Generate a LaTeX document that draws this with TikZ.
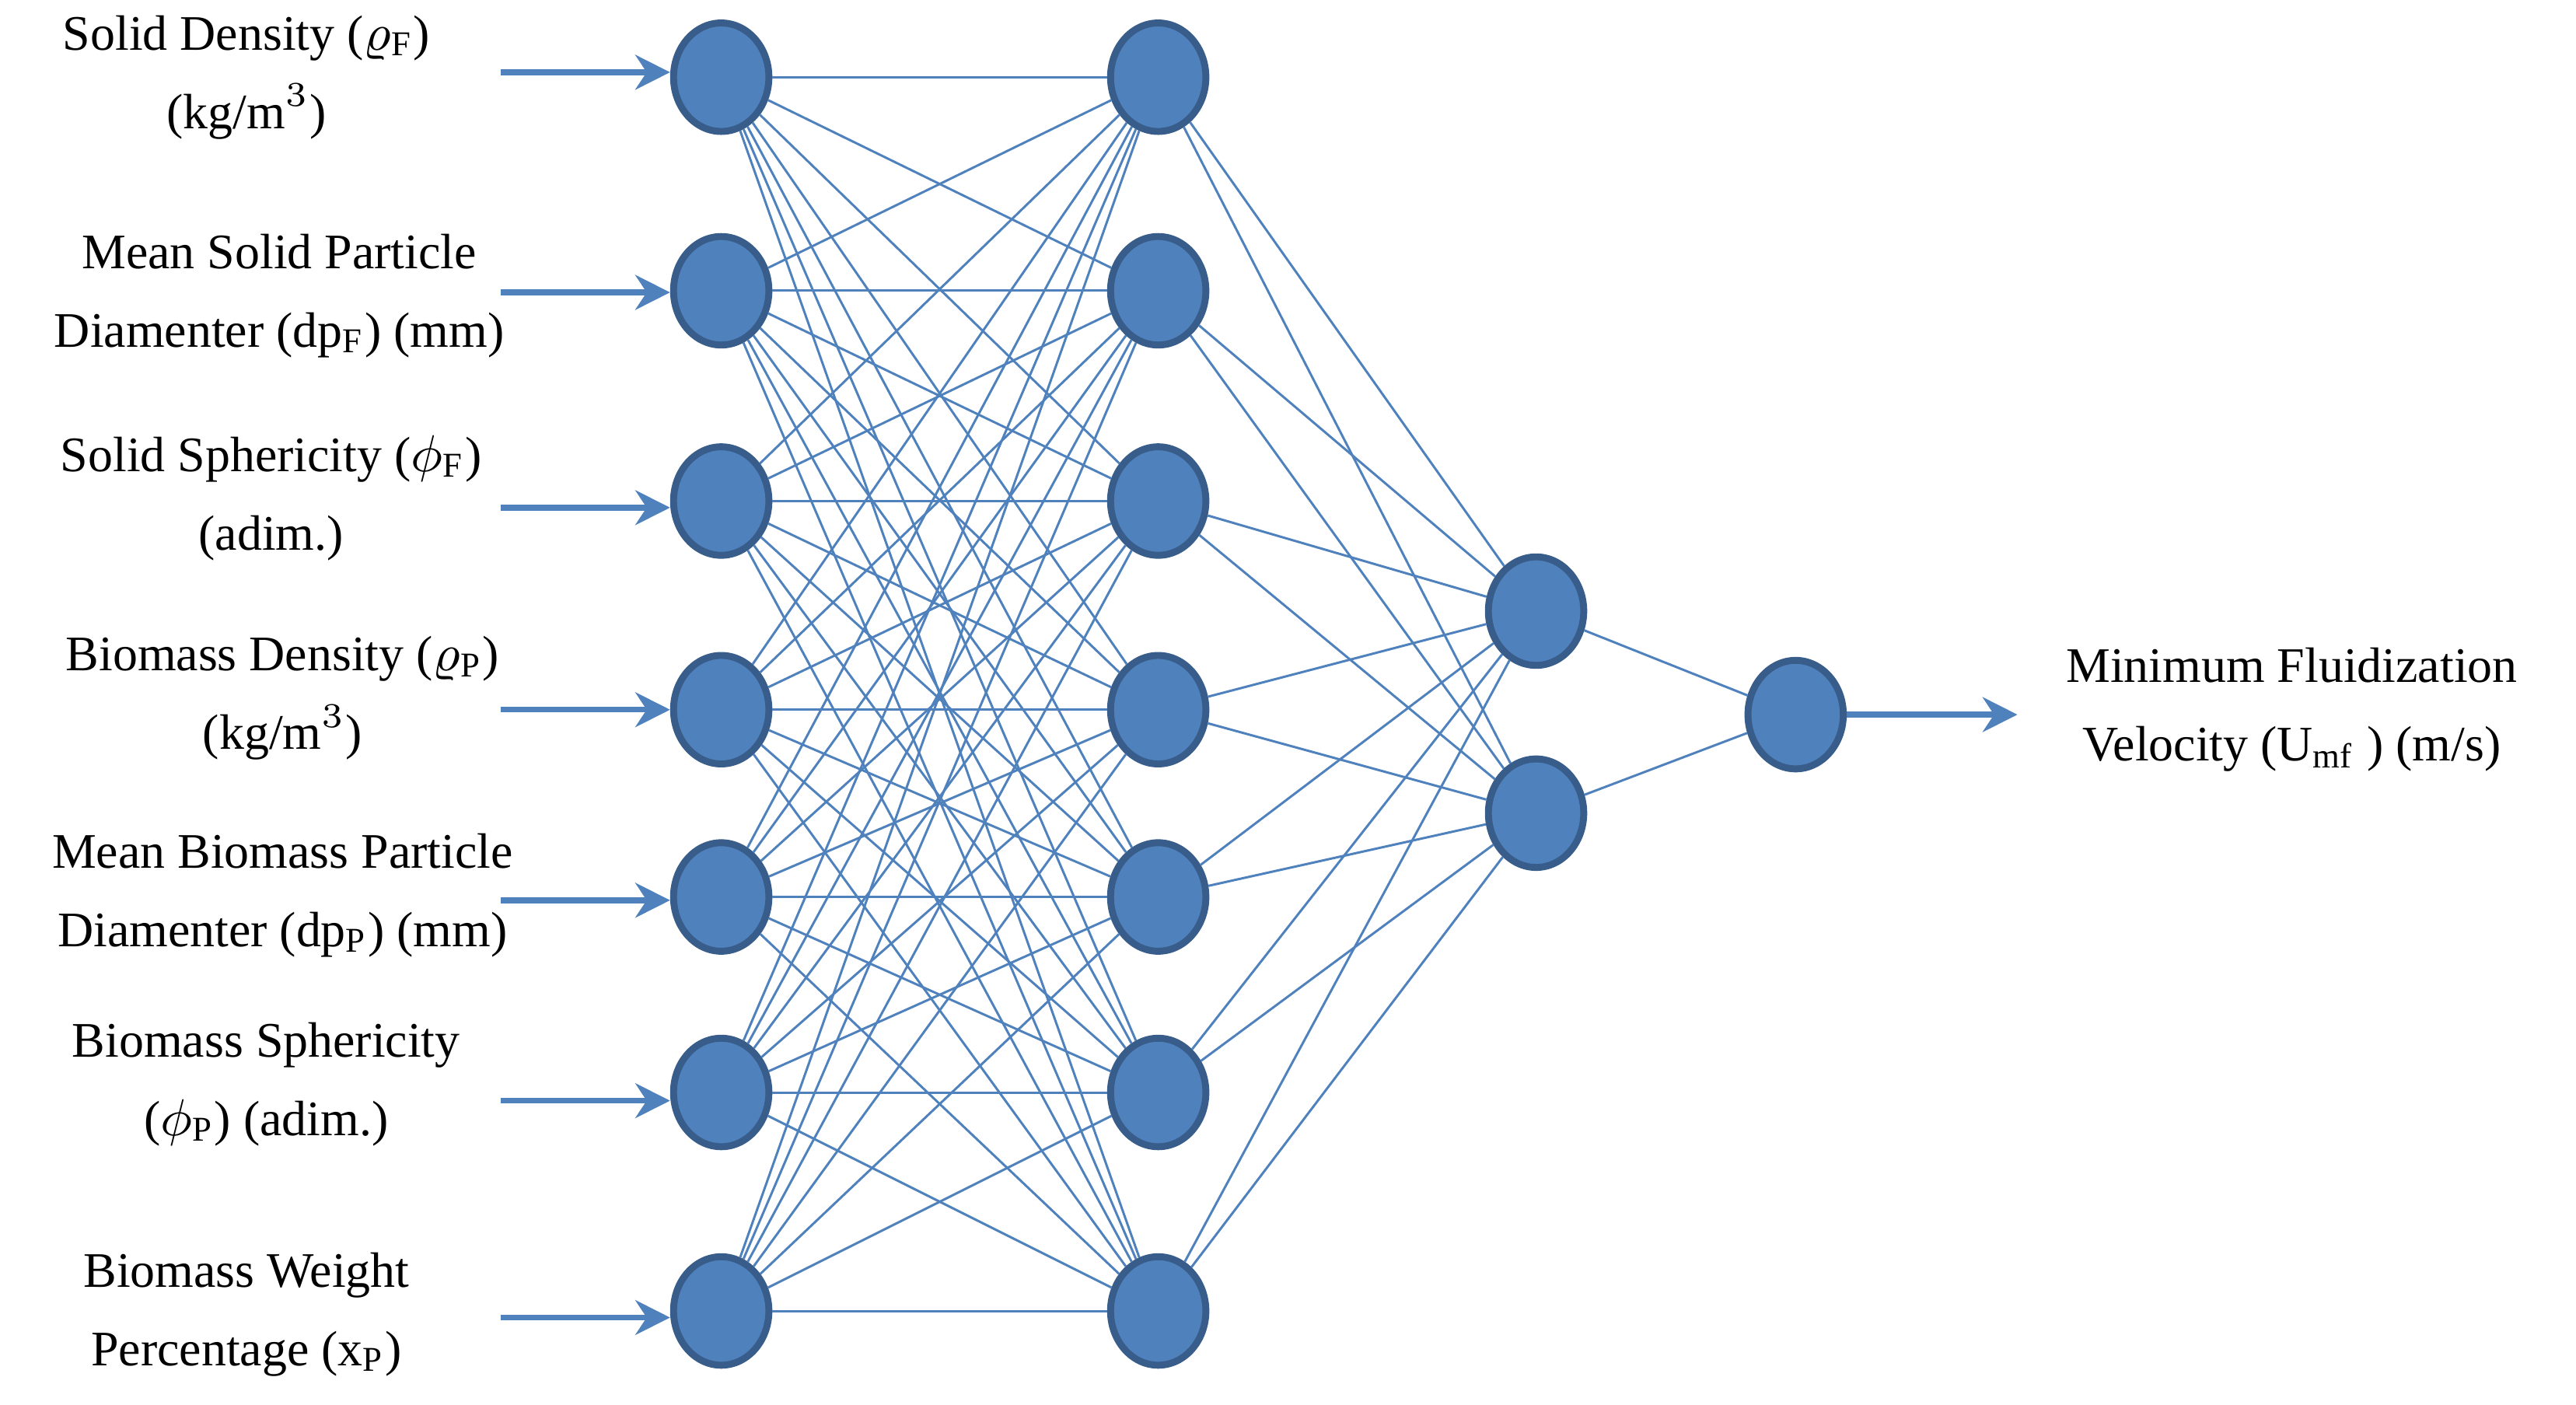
\documentclass[tikz,border=0pt]{standalone}
\usepackage{fontspec}
\setmainfont{Liberation Serif}
\usetikzlibrary{shapes.geometric,arrows.meta}
\begin{document}
\begin{tikzpicture}[x=0.01cm,y=-0.01cm,
  neuron/.style={ellipse,draw={rgb,255:red,56;green,93;blue,138},fill=nfill,line width=1.2pt,minimum width=0.58cm,minimum height=0.66cm,inner sep=0pt},
  conn/.style={draw=nfill,line width=0.4pt},
  inarrow/.style={draw=nfill,line width=1pt,-{Stealth[length=6pt,width=6pt]}},
  lbl/.style={align=center,font=\fontsize{8.6}{13.6}\selectfont}]
\definecolor{nfill}{HTML}{4F81BD}
\useasboundingbox (0,0) rectangle (1568,855);
\foreach \i/\y in {1/47,2/177,3/305,4/432,5/546,6/665,7/798}{
  \node[neuron] (a\i) at (439,\y) {};
  \node[neuron] (b\i) at (705,\y) {};
}
\node[neuron] (c1) at (935,372) {};
\node[neuron] (c2) at (935,495) {};
\node[neuron] (o) at (1093,435) {};
\foreach \i in {1,...,7}{\foreach \j in {1,...,7}{\draw[conn] (a\i) -- (b\j);}}
\foreach \i in {1,...,7}{\foreach \j in {1,2}{\draw[conn] (b\i) -- (c\j);}}
\draw[conn] (c1) -- (o); \draw[conn] (c2) -- (o);
\foreach \i/\y in {1/44,2/178,3/309,4/432,5/548,6/670,7/802}{
  \coordinate (s\i) at (305,\y);
  \draw[inarrow] (s\i) -- (a\i.west|-s\i);
}
\coordinate (t) at (1228,435);
\draw[inarrow] (o) -- (t);
\node[lbl] (l1) at (150,47) {Solid Density ($\varrho_{\mathrm{F}}$)\\(kg/m$^3$)};
\node[lbl] (l2) at (170,180) {Mean Solid Particle\\Diamenter (dp$_{\mathrm{F}}$) (mm)};
\node[lbl] (l3) at (165,303) {Solid Sphericity ($\phi_{\mathrm{F}}$)\\(adim.)};
\node[lbl] (l4) at (172,425) {Biomass Density ($\varrho_{\mathrm{P}}$)\\(kg/m$^3$)};
\node[lbl] (l5) at (172,545) {Mean Biomass Particle\\Diamenter (dp$_{\mathrm{P}}$) (mm)};
\node[lbl] (l6) at (162,660) {Biomass Sphericity\\($\phi_{\mathrm{P}}$) (adim.)};
\node[lbl] (l7) at (150,800) {Biomass Weight\\Percentage (x$_{\mathrm{P}}$)};
\node[lbl] (lo) at (1395,432) {Minimum Fluidization\\Velocity (U$_{\mathrm{mf}}$ ) (m/s)};
\end{tikzpicture}
\end{document}
